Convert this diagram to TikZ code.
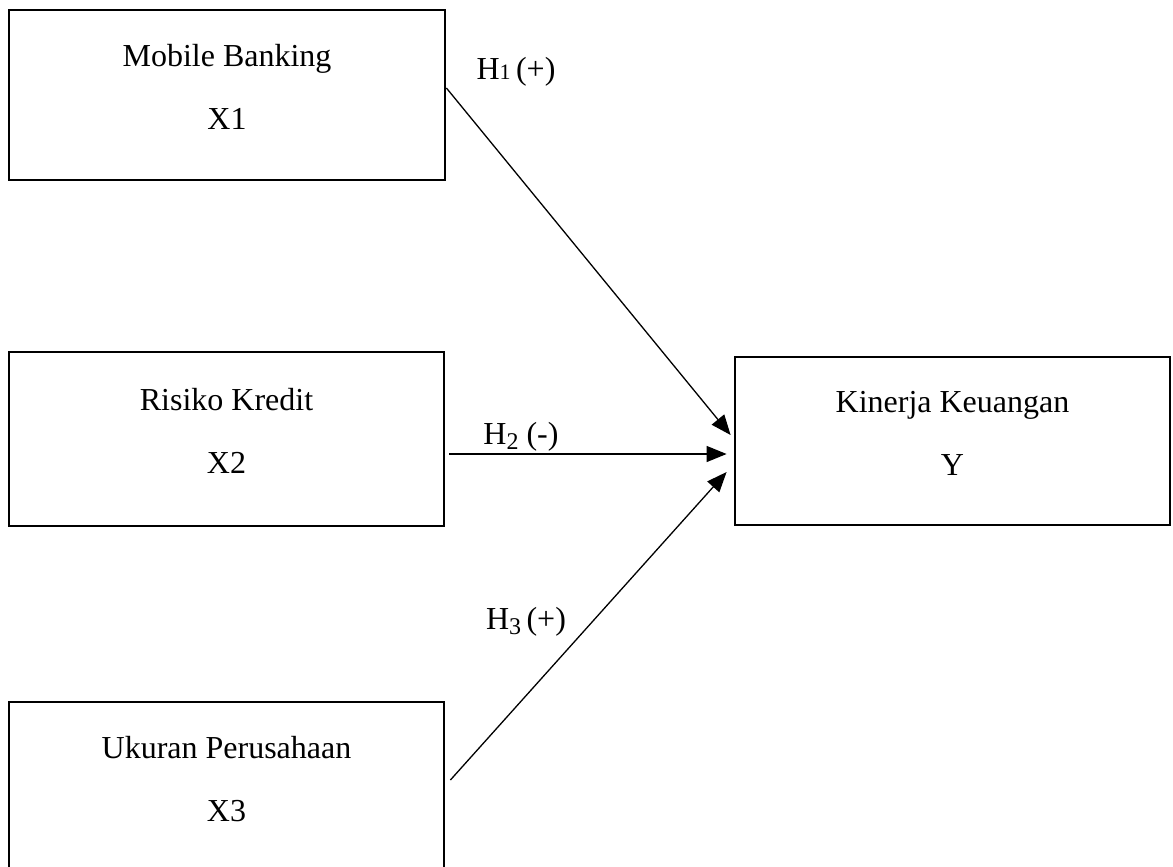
\documentclass[tikz,border=0pt]{standalone}
\usepackage{fontspec}
\setmainfont{Liberation Serif}
\usetikzlibrary{arrows.meta}
\newcommand{\hsub}[1]{\raisebox{-5pt}{\fontsize{24}{28}\selectfont #1}}
\begin{document}
\begin{tikzpicture}[x=1pt,y=-1pt,
  box/.style={draw, line width=2.8pt, rectangle, align=center, text depth=16pt,
    font=\fontsize{32}{63}\selectfont},
  conn/.style={line width=1.3pt, -{Triangle[length=20pt,width=16pt]}},
  hyp/.style={font=\fontsize{32}{38}\selectfont, inner sep=0pt}]
\clip (0,0) rectangle (1173,867);
\fill[white] (0,0) rectangle (1173,867);
\node[box, minimum width=436pt, minimum height=170pt] (x1) at (227,95) {Mobile Banking\\X1};
\node[box, minimum width=435pt, minimum height=174pt] (x2) at (226.5,439) {Risiko Kredit\\X2};
\node[box, minimum width=435pt, minimum height=170pt] (x3) at (226.5,787) {Ukuran Perusahaan\\X3};
\node[box, minimum width=435pt, minimum height=168pt] (y) at (952.5,441) {Kinerja Keuangan\\Y};
\draw[conn] ([yshift=7pt]x1.east) -- ([xshift=-3pt,yshift=6pt]y.west);
\draw[conn] ([xshift=4pt,yshift=-15pt]x2.east) -- ([xshift=-7pt,yshift=-13pt]y.west);
\draw[conn] ([xshift=5pt,yshift=7pt]x3.east) -- ([xshift=-7pt,yshift=-31pt]y.west);
\node[hyp] (h1) at (516,72) {H{\fontsize{22}{26}\selectfont 1}\,(+)};
\node[hyp] (h2) at (521,437) {H\hsub{2} (-)};
\node[hyp] (h3) at (526,622) {H\hsub{3}\,(+)};
\end{tikzpicture}
\end{document}
